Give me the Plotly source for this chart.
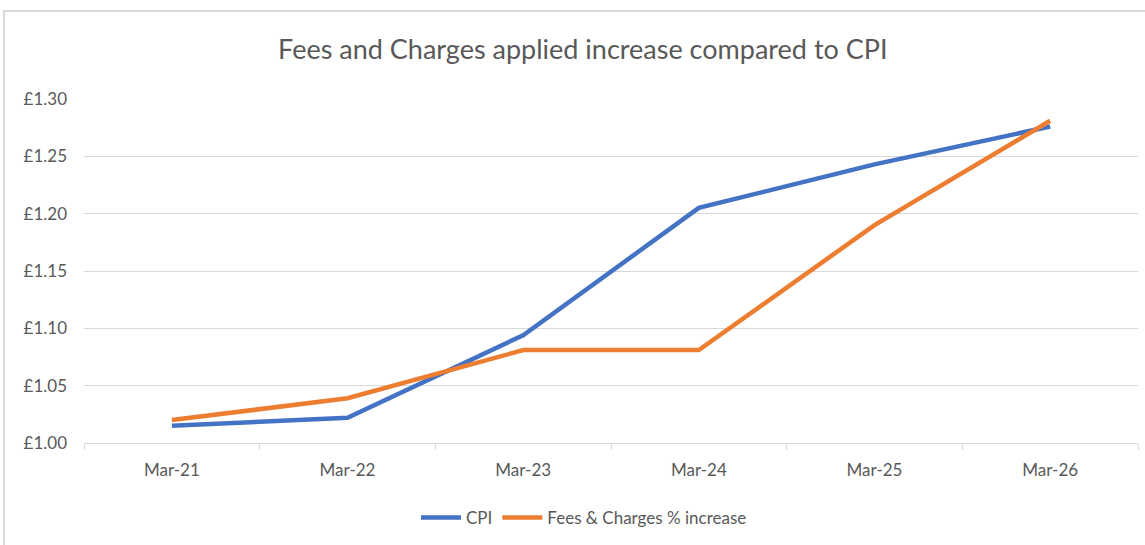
import plotly.graph_objects as go

categories = ["Mar-21", "Mar-22", "Mar-23", "Mar-24", "Mar-25", "Mar-26"]
cpi = [1.015, 1.022, 1.094, 1.205, 1.243, 1.276]
fees = [1.020, 1.039, 1.081, 1.081, 1.190, 1.281]

W, H = 1145, 545
L, R, T, B = 84, 7, 99, 102
pw, ph = W - L - R, H - T - B

grey = "#595959"
font_family = "Lato, 'Noto Sans', sans-serif"

fig = go.Figure()
fig.add_trace(go.Scatter(x=categories, y=cpi, name="CPI", mode="lines",
                         line=dict(color="#4472C4", width=4.5)))
fig.add_trace(go.Scatter(x=categories, y=fees, name="Fees & Charges % increase", mode="lines",
                         line=dict(color="#ED7D31", width=4.5)))

fig.update_layout(
    width=W, height=H,
    margin=dict(l=L, r=R, t=T, b=B),
    paper_bgcolor="white", plot_bgcolor="white",
    font=dict(family=font_family, color=grey, size=17),
    title=dict(text="Fees and Charges applied increase compared to CPI",
               x=0.509, xanchor="center", y=1 - 50 / H, yanchor="middle", yref="container",
               font=dict(size=27, color=grey, family=font_family)),
    showlegend=True,
    legend=dict(orientation="h", x=(584 - L) / pw, xanchor="center",
                y=-(518 - (T + ph)) / ph, yanchor="middle",
                font=dict(size=17, color=grey), itemwidth=40, bgcolor="rgba(0,0,0,0)"),
    xaxis=dict(type="category", showgrid=False, showline=True, linecolor="#D9D9D9", linewidth=1,
               ticks="outside", tickson="boundaries", ticklen=6, tickcolor="#D9D9D9",
               tickfont=dict(size=17, color=grey), ticklabelstandoff=12,
               range=[-0.5, 5.5]),
    yaxis=dict(range=[1.0, 1.30], dtick=0.05, tick0=1.0, tickprefix="£", tickformat=".2f",
               showgrid=True, gridcolor="#D9D9D9", gridwidth=1, zeroline=False, showline=False,
               tickfont=dict(size=17, color=grey), ticklabelstandoff=16),
)

fig.add_shape(type="rect", xref="paper", yref="paper",
              x0=(4 - L) / pw, x1=(W + 5 - L) / pw,
              y0=-(H + 5 - T - ph) / ph, y1=1 + (T - 11) / ph,
              line=dict(color="#D0D0D0", width=1.5), fillcolor="rgba(0,0,0,0)", layer="below")

fig.write_html("out.html", config={"displayModeBar": False},
               post_script="document.body.style.margin='0';")
